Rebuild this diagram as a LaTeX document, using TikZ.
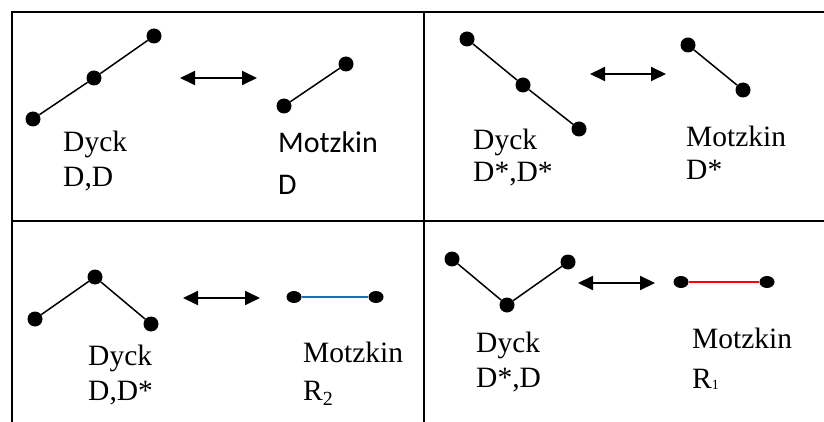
\documentclass[tikz,border=0pt]{standalone}
\usepackage{fontspec}
\setmainfont{Liberation Serif}
\newfontfamily\carlitofont{Carlito}
\usetikzlibrary{arrows.meta,shapes.geometric}
\begin{document}
\begin{tikzpicture}[x=1pt,y=-1pt,
  frame/.style={line width=1.6pt},
  dot/.style={circle,fill=black,inner sep=0pt,minimum size=15pt},
  edot/.style={ellipse,fill=black,inner sep=0pt,minimum width=15pt,minimum height=12pt},
  seg/.style={line width=1.5pt},
  dbl/.style={line width=2pt,{Triangle[length=15pt,width=14pt]}-{Triangle[length=15pt,width=14pt]}},
  serif/.style={anchor=base west,inner sep=0pt,font=\fontsize{29.5}{32}\selectfont},
  sans/.style={anchor=base west,inner sep=0pt,font=\carlitofont\fontsize{30}{32}\selectfont}]
\useasboundingbox[fill=white] (0,0) rectangle (824,422);
% frame
\coordinate (fl1) at (12,12); \coordinate (fl2) at (12,422);
\coordinate (fm1) at (424,12); \coordinate (fm2) at (424,422);
\coordinate (ft1) at (11.2,12); \coordinate (ft2) at (824,12);
\coordinate (fh1) at (12,221); \coordinate (fh2) at (824,221);
\draw[frame] (fl1) -- (fl2);
\draw[frame] (fm1) -- (fm2);
\draw[frame] (ft1) -- (ft2);
\draw[frame] (fh1) -- (fh2);
% panel 1
\node[dot] (p1a) at (33,119) {};
\node[dot] (p1b) at (94,78) {};
\node[dot] (p1c) at (154,36) {};
\draw[seg] (p1a) -- (p1b) -- (p1c);
\coordinate (r1l) at (180,78); \coordinate (r1r) at (257,78);
\draw[dbl] (r1l) -- (r1r);
\node[dot] (m1a) at (284,106) {};
\node[dot] (m1b) at (346,64) {};
\draw[seg] (m1a) -- (m1b);
\node[serif] (t1a) at (63,152) {Dyck};
\node[serif] (t1b) at (63,187) {D,D};
\node[sans] (t1c) at (278,153) {Motzkin};
\node[sans] (t1d) at (278,194) {D};
% panel 2
\node[dot] (p2a) at (467,39) {};
\node[dot] (p2b) at (523,85) {};
\node[dot] (p2c) at (579,129) {};
\draw[seg] (p2a) -- (p2b) -- (p2c);
\coordinate (r2l) at (590,74); \coordinate (r2r) at (666,74);
\draw[dbl] (r2l) -- (r2r);
\node[dot] (m2a) at (688,45) {};
\node[dot] (m2b) at (743,90) {};
\draw[seg] (m2a) -- (m2b);
\node[serif] (t2a) at (473,150) {Dyck};
\node[serif] (t2b) at (473,182) {D*,D*};
\node[serif] (t2c) at (686,147) {Motzkin};
\node[serif] (t2d) at (686,180) {D*};
% panel 3
\node[dot] (p3a) at (35,319) {};
\node[dot] (p3b) at (95,277) {};
\node[dot] (p3c) at (151,324) {};
\draw[seg] (p3a) -- (p3b) -- (p3c);
\coordinate (r3l) at (183,298); \coordinate (r3r) at (260,298);
\draw[dbl] (r3l) -- (r3r);
\node[edot] (m3a) at (294,297) {};
\node[edot] (m3b) at (376,297) {};
\draw[line width=1.5pt,color={rgb,255:red,30;green,110;blue,190}] (m3a) -- (m3b);
\node[serif] (t3a) at (88,365) {Dyck};
\node[serif] (t3b) at (88,400) {D,D*};
\node[serif] (t3c) at (303,362) {Motzkin};
\node[serif] (t3d) at (303,400) {R\raisebox{-5pt}{\fontsize{20}{20}\selectfont 2}};
% panel 4
\node[dot] (p4a) at (452,259) {};
\node[dot] (p4b) at (507,305) {};
\node[dot] (p4c) at (568,262) {};
\draw[seg] (p4a) -- (p4b) -- (p4c);
\coordinate (r4l) at (578,283); \coordinate (r4r) at (655,283);
\draw[dbl] (r4l) -- (r4r);
\node[edot] (m4a) at (681,282) {};
\node[edot] (m4b) at (767,282) {};
\draw[line width=1.5pt,color=red] (m4a) -- (m4b);
\node[serif] (t4a) at (476,352) {Dyck};
\node[serif] (t4b) at (476,387) {D*,D};
\node[serif] (t4c) at (692,348) {Motzkin};
\node[serif] (t4d) at (692,388) {R\raisebox{-1pt}{\fontsize{14}{14}\selectfont 1}};
\end{tikzpicture}
\end{document}
